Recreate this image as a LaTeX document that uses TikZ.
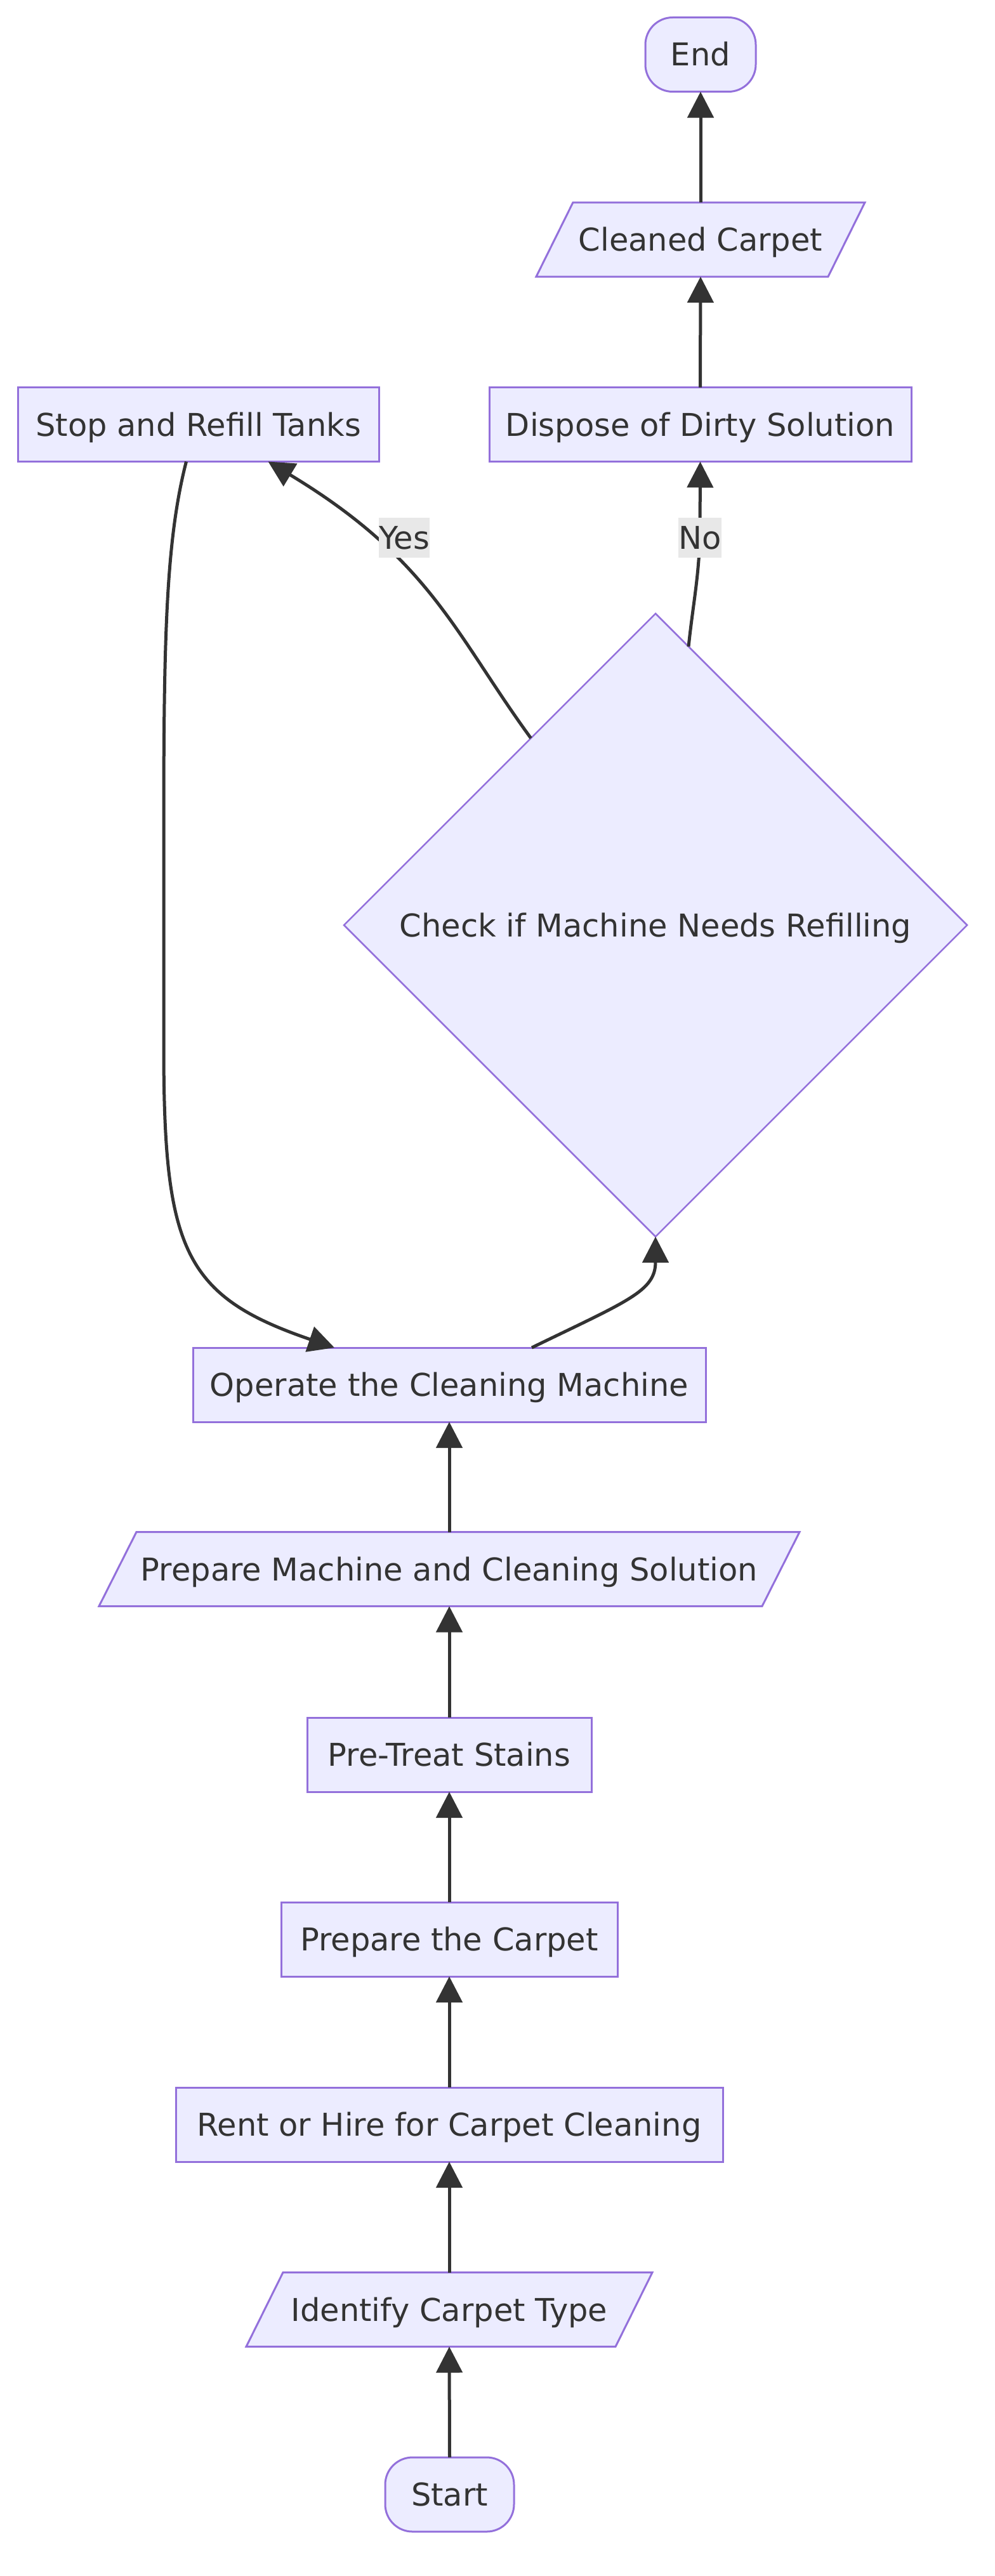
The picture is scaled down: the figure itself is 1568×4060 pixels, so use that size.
\documentclass[tikz,border=0pt]{standalone}
\usepackage{fontspec}
\setmainfont{DejaVu Sans}
\usetikzlibrary{arrows.meta,shapes.geometric,backgrounds,calc}
\definecolor{nodefill}{HTML}{ECECFF}
\definecolor{nodedraw}{HTML}{9370DB}
\definecolor{ink}{HTML}{333333}
\definecolor{labelbg}{HTML}{E8E8E8}
\newcommand\drawpara[2]{\path[parashape] ([xshift=#2]#1.north west) -- ([xshift=#2]#1.north east) -- ([xshift=-#2]#1.south east) -- ([xshift=-#2]#1.south west) -- cycle;}
\begin{document}
\begin{tikzpicture}[x=1pt,y=-1pt,
  every node/.style={font=\fontsize{49.5pt}{59pt}\selectfont, text=ink, text height=36pt, text depth=0pt, outer sep=0pt},
  box/.style={draw=nodedraw, fill=nodefill, line width=3pt, minimum height=117pt, inner sep=0pt},
  stadium/.style={box, rounded corners=43pt},
  paratext/.style={minimum height=117pt, inner sep=0pt},
  parashape/.style={draw=nodedraw, fill=nodefill, line width=3pt},
  decision/.style={diamond, aspect=1, draw=nodedraw, fill=nodefill, line width=2.5pt, minimum width=982pt, minimum height=982pt, inner sep=0pt},
  elabel/.style={fill=labelbg, minimum height=63pt, inner xsep=0pt, inner ysep=0pt},
  edge/.style={draw=ink, line width=5pt, -{Triangle[length=41pt,width=41pt]}},
]
\useasboundingbox (0,0) rectangle (1568,4060);

% nodes
\node[stadium, minimum width=174pt] (en) at (1104,86) {End};
\node[paratext, minimum width=460pt] (cc) at (1104,377.5) {Cleaned Carpet};
\node[box, minimum width=569pt] (sr) at (312.5,669) {Stop and Refill Tanks};
\node[box, minimum width=665pt] (dp) at (1103.5,669) {Dispose of Dirty Solution};
\node[decision] (dm) at (1033,1458) {Check if Machine Needs Refilling};
\node[box, minimum width=808pt] (op) at (708,2182.5) {Operate the Cleaning Machine};
\node[paratext, minimum width=1045pt] (pm) at (708,2473) {Prepare Machine and Cleaning Solution};
\node[box, minimum width=448pt] (pt) at (708,2765.5) {Pre-Treat Stains};
\node[box, minimum width=530pt] (pc) at (708,3056.5) {Prepare the Carpet};
\node[box, minimum width=862pt] (rh) at (708,3348.5) {Rent or Hire for Carpet Cleaning};
\node[paratext, minimum width=582pt] (id) at (708,3640) {Identify Carpet Type};
\node[stadium, minimum width=203pt] (st) at (708.5,3931.5) {Start};

\begin{scope}[on background layer]
  \drawpara{cc}{29pt}
  \drawpara{pm}{29.5pt}
  \drawpara{id}{29pt}
\end{scope}

\coordinate (yespt) at (637,847);
\coordinate (nopt) at (1103,847);

% edges
\draw[edge] (st.north) -- (id.south);
\draw[edge] (id.north) -- (rh.south);
\draw[edge] (rh.north) -- (pc.south);
\draw[edge] (pc.north) -- (pt.south);
\draw[edge] (pt.north) -- (pm.south);
\draw[edge] (pm.north) -- (op.south);
\draw[edge] ([xshift=130pt]op.north) .. controls (990,2050) and (1033,2035) .. (dm.south);
\draw[edge] ($(dm.north)!0.4!(dm.west)$) .. controls (718,1001) and (679,882) .. ([xshift=110pt]sr.south);
\draw[edge] ($(dm.north)!0.106!(dm.east)$) to[out=84,in=-92] (nopt) -- (dp.south);
\draw[edge] ([xshift=-19pt]sr.south) .. controls (262,850) and (258,1000) .. (258,1300) -- (258,1650) .. controls (258,1970) and (290,2043) .. ([xshift=-181pt]op.north);
\draw[edge] (dp.north) -- (cc.south);
\draw[edge] (cc.north) -- (en.south);

% edge labels
\node[elabel] (yes) at (yespt) {Yes};
\node[elabel] (no) at (nopt) {No};
\end{tikzpicture}
\end{document}
